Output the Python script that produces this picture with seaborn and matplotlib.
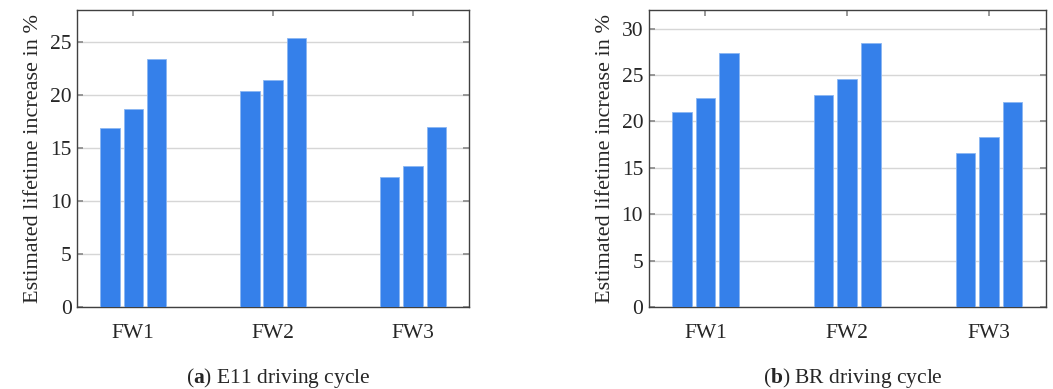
import numpy as np
import matplotlib
matplotlib.use('Agg')
import matplotlib.pyplot as plt
import pandas as pd
import seaborn as sns

SET_DPI = 100
FIGSIZE = (10.53, 3.89)

groups = ['FW1', 'FW2', 'FW3']
variants = ['v1', 'v2', 'v3']

# estimated lifetime increase in %, per group (3 variants each)
e11_fw1 = [16.9, 18.7, 23.4]
e11_fw2 = [20.4, 21.4, 25.4]
e11_fw3 = [12.3, 13.3, 17.0]

br_fw1 = [21.0, 22.5, 27.4]
br_fw2 = [22.8, 24.6, 28.4]
br_fw3 = [16.6, 18.3, 22.1]

e11_yticks = [0, 5, 10, 15, 20, 25]
br_yticks = [0, 5, 10, 15, 20, 25, 30]


def make_table(fw1, fw2, fw3):
    rows = []
    for g, vals in zip(groups, [fw1, fw2, fw3]):
        for v, val in zip(variants, vals):
            rows.append({'group': g, 'variant': v, 'value': val})
    return pd.DataFrame(rows)


sns.set_style('white')
plt.rcParams['font.family'] = ['Liberation Serif', 'DejaVu Serif']
plt.rcParams['font.size'] = 15.5
plt.rcParams['mathtext.fontset'] = 'custom'
plt.rcParams['mathtext.rm'] = 'Liberation Serif'
plt.rcParams['mathtext.bf'] = 'Liberation Serif:bold'

bar_colour = '#3580ea'
palette = [bar_colour] * 3

fig = plt.figure(figsize=FIGSIZE, dpi=SET_DPI)
ax_a = fig.add_axes([77.3 / 1053, 82 / 389, 391.7 / 1053, 297 / 389])
ax_b = fig.add_axes([648.7 / 1053, 82 / 389, 397 / 1053, 297 / 389])

panels = [
    (ax_a, make_table(e11_fw1, e11_fw2, e11_fw3), e11_yticks, 28, 'a', 'E11 driving cycle'),
    (ax_b, make_table(br_fw1, br_fw2, br_fw3), br_yticks, 32, 'b', 'BR driving cycle'),
]

for ax, df, yticks, ytop, tag, caption in panels:
    ax.set_axisbelow(True)
    ax.grid(True, color='#d6d6d6', linewidth=1.0)
    sns.barplot(data=df, x='group', y='value', hue='variant', palette=palette,
                saturation=1, width=0.5, gap=0.17, edgecolor='#8ab6f2',
                linewidth=0.6, legend=False, ax=ax, zorder=3)
    ax.set_xlim(-0.4, 2.4)
    ax.set_ylim(0, ytop)
    ax.set_yticks(yticks)
    ax.set_xlabel('')
    ax.set_ylabel('Estimated lifetime increase in %', fontsize=16, labelpad=5)
    ax.tick_params(axis='both', direction='in', length=4, width=1.2,
                   color='#888888', labelsize=15.5, right=True, top=True,
                   bottom=True, left=True)
    ax.tick_params(axis='x', pad=12)
    ax.tick_params(axis='y', pad=4)
    for sp in ax.spines.values():
        sp.set_visible(True)
        sp.set_color('#404040')
        sp.set_linewidth(1.0)
    pos = ax.get_position()
    fig.text(pos.x0 + pos.width / 2 + 0.005, 0.028, r'($\mathbf{' + tag + r'}$) ' + caption,
             ha='center', va='center', fontsize=15.5)

plt.savefig('out.png', dpi=SET_DPI)
plt.close()
